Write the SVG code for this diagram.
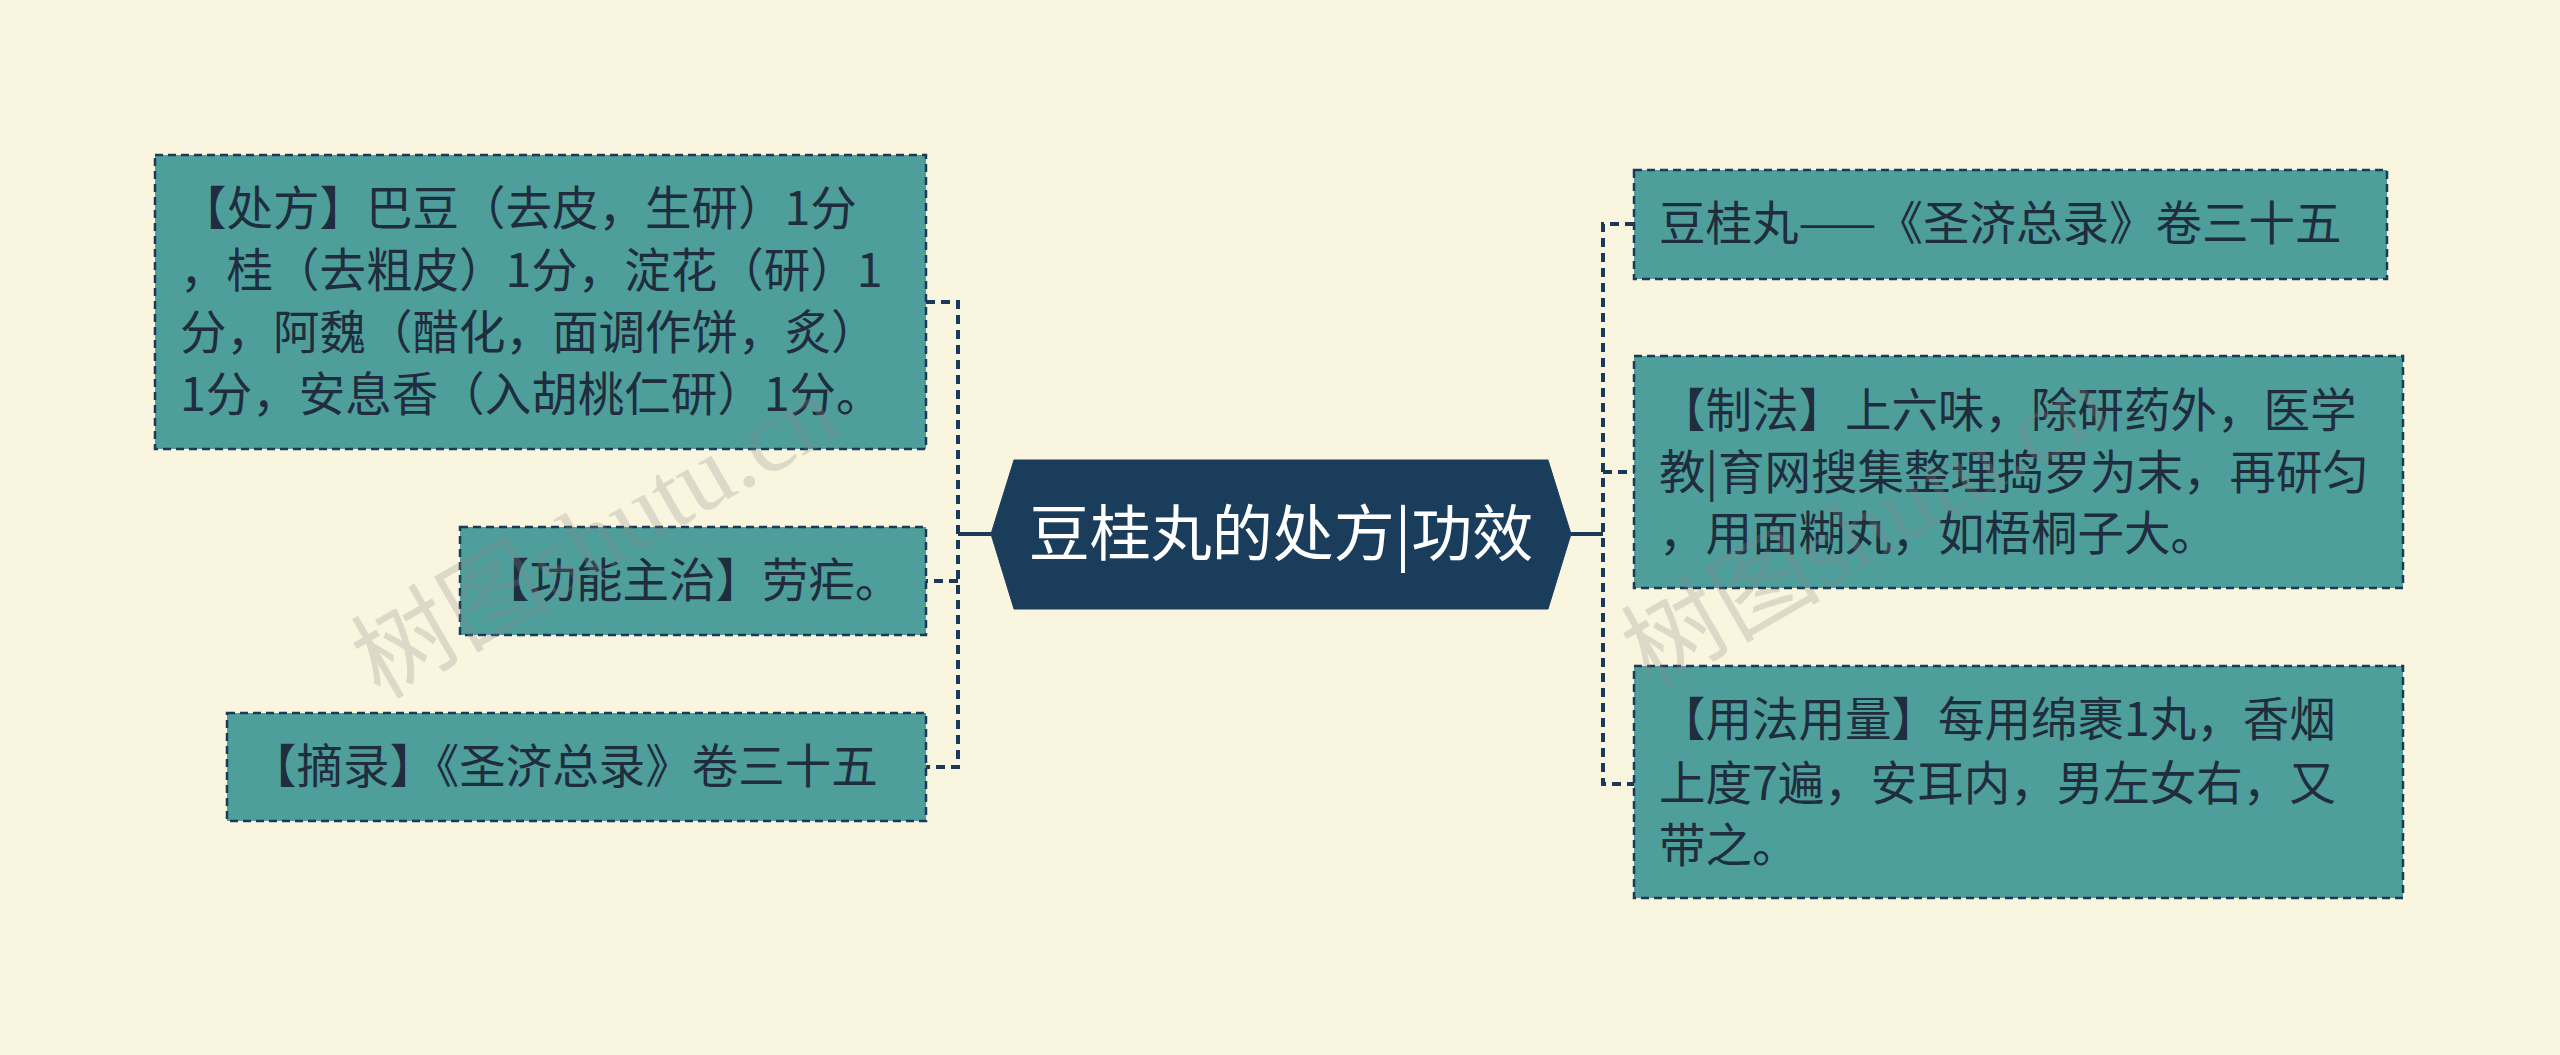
<svg xmlns="http://www.w3.org/2000/svg" width="2560" height="1055" viewBox="0 0 2560 1055">
<style>
.n{fill:#4E9E9C;stroke:#1B3A57;stroke-width:2.5;stroke-dasharray:8 5}
.t{font-family:"Noto Sans CJK SC","Noto Sans",sans-serif;font-size:46.5px;fill:#1F2D3D}
.c{fill:none;stroke:#1B3A57;stroke-width:4;stroke-dasharray:9 6}
.w{font-family:"Liberation Serif","Noto Sans CJK SC",serif;font-size:100px;fill:#8a8a8a;opacity:0.25}
</style>
<rect width="2560" height="1055" fill="#FAF5DF"/>
<g id="connectors">
<line x1="958" y1="534" x2="991" y2="534" stroke="#1B3A57" stroke-width="4"/>
<path class="c" d="M926 302H958V767H926M958 581H926"/>
<line x1="1571" y1="534" x2="1603" y2="534" stroke="#1B3A57" stroke-width="4"/>
<path class="c" d="M1634 224H1603V784H1634M1603 472H1634"/>
</g>
<g id="center">
<polygon points="1014,460 1548,460 1571,534 1548,609 1014,609 991,534" fill="#1A3D5C" stroke="#1A3D5C"/>
<text x="1281" y="556" text-anchor="middle" font-family="Noto Sans CJK SC,sans-serif" font-size="61" fill="#fff">豆桂丸的处方|功效</text>
</g>
<g id="l1"><rect class="n" x="155" y="155" width="771" height="294"/>
<text class="t"><tspan x="180" y="225">【处方】巴豆（去皮，生研）1分</tspan><tspan x="180" y="287">，桂（去粗皮）1分，淀花（研）1</tspan><tspan x="180" y="349">分，阿魏（醋化，面调作饼，炙）</tspan><tspan x="180" y="411">1分，安息香（入胡桃仁研）1分。</tspan></text></g>
<g id="l2"><rect class="n" x="460" y="527" width="466" height="108"/>
<text class="t" x="483" y="597">【功能主治】劳疟。</text></g>
<g id="l3"><rect class="n" x="227" y="713" width="699" height="108"/>
<text class="t" x="250" y="783">【摘录】《圣济总录》卷三十五</text></g>
<g id="r1"><rect class="n" x="1634" y="170" width="753" height="109"/>
<text class="t" x="1659" y="240">豆桂丸——《圣济总录》卷三十五</text></g>
<g id="r2"><rect class="n" x="1634" y="356" width="769" height="232"/>
<text class="t"><tspan x="1659" y="427">【制法】上六味，除研药外，医学</tspan><tspan x="1659" y="489">教|育网搜集整理捣罗为末，再研匀</tspan><tspan x="1659" y="550">，用面糊丸，如梧桐子大。</tspan></text></g>
<g id="r3"><rect class="n" x="1634" y="666" width="769" height="232"/>
<text class="t"><tspan x="1659" y="736">【用法用量】每用绵裹1丸，香烟</tspan><tspan x="1659" y="800">上度7遍，安耳内，男左女右，又</tspan><tspan x="1659" y="862">带之。</tspan></text></g>
<text class="w" transform="translate(380,700) rotate(-30)">树图shutu.cn</text>
<text class="w" transform="translate(1650,690) rotate(-30)">树图shutu.cn</text>
</svg>
